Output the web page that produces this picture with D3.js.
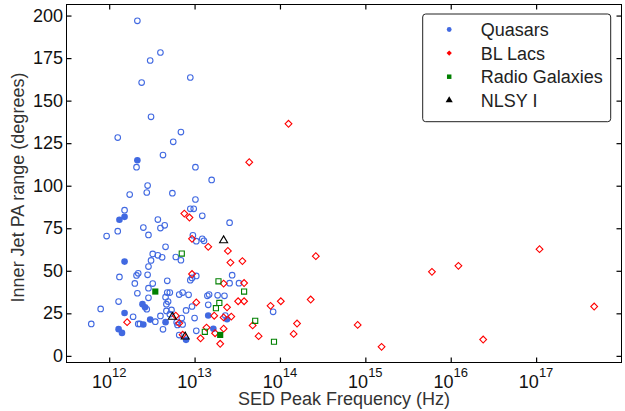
<!DOCTYPE html>
<html>
<head>
<meta charset="utf-8">
<script src="https://cdn.jsdelivr.net/npm/d3@7"></script>
<style>
  body { margin: 0; background: #fff; }
  text { font-family: "Liberation Sans", Arial, sans-serif; }
</style>
</head>
<body>
<div id="chart"></div>
<script>
// values: [log10 SED peak frequency (Hz), inner jet PA range (deg)]
var quasarsOpen = [
  [12.33, 196.9], [12.60, 178.3], [12.48, 173.6], [12.95, 163.6], [12.38, 160.6],
  [12.49, 140.5], [12.10, 128.3], [12.84, 131.5], [12.75, 125.8], [12.32, 110.9],
  [12.63, 118.0], [13.01, 110.9], [13.20, 103.4], [12.45, 100.1], [12.44, 96.0],
  [12.24, 94.8], [12.74, 95.6], [13.01, 91.9], [12.18, 85.6], [12.95, 86.4],
  [12.99, 86.4], [13.09, 82.3], [12.57, 80.1], [11.97, 70.4], [12.10, 73.3],
  [12.40, 75.4], [12.46, 71.1], [12.60, 75.1], [12.65, 76.7], [13.41, 78.3],
  [12.98, 70.9], [13.02, 67.4], [13.09, 68.8], [13.11, 67.6], [12.66, 64.1],
  [12.51, 59.9], [12.57, 59.1], [12.62, 57.9], [12.49, 56.1], [12.46, 52.5],
  [12.78, 58.1], [12.84, 56.2], [12.12, 46.4], [12.32, 47.3], [12.34, 48.5],
  [12.45, 47.6], [12.30, 42.6], [12.46, 39.8], [12.51, 42.5], [12.68, 44.1],
  [12.95, 44.5], [12.97, 45.8], [13.02, 47.0], [13.44, 47.4], [13.41, 42.7],
  [13.52, 42.7], [12.33, 36.8], [12.68, 37.2], [12.71, 37.2], [12.82, 36.0],
  [12.86, 37.2], [12.93, 35.9], [12.66, 34.5], [12.46, 34.1], [12.11, 31.9],
  [11.90, 27.6], [12.44, 27.4], [12.67, 30.4], [12.69, 31.9], [12.67, 26.4],
  [12.73, 27.0], [12.60, 23.5], [12.71, 24.5], [13.15, 35.3], [13.17, 36.0],
  [13.27, 35.6], [13.35, 35.3], [13.16, 30.0], [12.90, 26.7], [12.97, 29.0],
  [13.36, 23.7], [12.28, 23.0], [12.54, 20.1], [12.79, 19.7], [12.80, 18.2],
  [12.86, 18.5], [12.85, 22.2], [12.34, 18.8], [12.36, 18.8], [11.79, 18.8],
  [12.63, 15.6], [12.82, 12.2], [13.02, 14.7], [13.00, 22.2], [13.92, 25.9]
];
var quasarsFilled = [
  [12.33, 115.0], [12.12, 80.0], [12.18, 81.7], [12.18, 55.4], [12.39, 30.4],
  [12.42, 28.5], [12.18, 25.2], [12.48, 21.3], [12.66, 19.8], [12.40, 18.4],
  [12.11, 15.7], [12.15, 13.5], [12.90, 9.4], [13.16, 23.7], [13.22, 15.9],
  [13.38, 21.5]
];
var blLacs = [
  [14.10, 136.4], [13.64, 113.8], [12.88, 83.6], [12.94, 81.3], [12.97, 68.8],
  [13.16, 64.1], [13.39, 61.7], [13.42, 54.8], [13.56, 55.7], [12.97, 48.1],
  [13.34, 42.5], [13.58, 42.8], [13.02, 31.4], [13.51, 32.1], [13.58, 32.1],
  [13.38, 28.5], [13.23, 23.6], [13.34, 22.6], [13.43, 23.1], [12.78, 23.6],
  [12.82, 19.2], [12.21, 19.8], [12.86, 12.4], [13.07, 10.3], [13.14, 16.6],
  [13.24, 13.3], [13.34, 16.0], [13.30, 7.1], [13.68, 17.9], [13.75, 11.6],
  [13.89, 29.4], [14.01, 32.1], [14.20, 19.0], [14.16, 12.9], [14.36, 33.1],
  [14.42, 58.6], [14.91, 18.2], [15.19, 5.3], [15.78, 49.4], [16.09, 52.9],
  [16.38, 9.6], [17.04, 62.7], [17.68, 29.0]
];
var radioGalaxiesOpen = [
  [12.85, 60.1], [13.28, 43.8], [13.58, 37.8], [13.29, 31.1], [13.25, 28.0],
  [13.12, 14.1], [13.71, 20.6], [13.93, 8.3]
];
var radioGalaxiesFilled = [[12.54, 37.8], [13.30, 12.3]];
var nlsy1 = [[13.34, 67.8], [12.74, 22.9], [12.89, 11.3]];

var xTicks = [12, 13, 14, 15, 16, 17];
var yTicks = [0, 25, 50, 75, 100, 125, 150, 175, 200];
var legendLabels = ['Quasars', 'BL Lacs', 'Radio Galaxies', 'NLSY I'];

var blue = '#4169e1', red = '#ff0000', green = '#008000', black = '#000000';

// set the dimensions and margins of the graph
var margin = { top: 4.5, right: 3.5, bottom: 48.5, left: 66.5 },
  width = 625 - margin.left - margin.right,
  height = 411 - margin.top - margin.bottom;

var svg = d3
  .select('#chart')
  .append('svg')
  .attr('width', 625)
  .attr('height', 411)
  .append('g')
  .attr('transform', 'translate(' + margin.left + ',' + margin.top + ')');

var x = d3.scaleLog().domain([Math.pow(10, 11.5), 1e18]).range([0, width]);
var y = d3.scaleLinear().domain([-3.9, 206.5]).range([height, 0]);

function px(d) { return x(Math.pow(10, d[0])); }
function py(d) { return y(d[1]); }

// inward ticks on all four sides
var tickVals = xTicks.map(function (e) { return Math.pow(10, e); });
svg.append('g')
  .attr('transform', 'translate(0,' + height + ')')
  .call(d3.axisBottom(x).tickValues(tickVals).tickSize(-5).tickFormat('').tickSizeOuter(0));
svg.append('g')
  .call(d3.axisTop(x).tickValues(tickVals).tickSize(-5).tickFormat('').tickSizeOuter(0));
svg.append('g')
  .call(d3.axisLeft(y).tickValues(yTicks).tickSize(-5).tickFormat('').tickSizeOuter(0));
svg.append('g')
  .attr('transform', 'translate(' + width + ',0)')
  .call(d3.axisRight(y).tickValues(yTicks).tickSize(-5).tickFormat('').tickSizeOuter(0));
svg.selectAll('.domain').remove();
svg.selectAll('.tick line').attr('stroke', '#000').attr('stroke-width', 1.2);

svg.append('rect')
  .attr('width', width)
  .attr('height', height)
  .attr('fill', 'none')
  .attr('stroke', '#000')
  .attr('stroke-width', 1);

// tick labels, 10 with a raised exponent
var xl = svg.append('g').selectAll('text')
  .data(xTicks)
  .enter()
  .append('text')
  .attr('x', function (d) { return x(Math.pow(10, d)); })
  .attr('y', height + 25)
  .attr('text-anchor', 'middle')
  .attr('fill', '#111')
  .style('font-size', '18px');
xl.append('tspan').text('10');
xl.append('tspan').attr('dy', -11).style('font-size', '13px').text(function (d) { return d; });

svg.append('g').selectAll('text')
  .data(yTicks)
  .enter()
  .append('text')
  .attr('x', -3.5)
  .attr('y', function (d) { return y(d) + 6; })
  .attr('text-anchor', 'end')
  .attr('fill', '#111')
  .style('font-size', '18px')
  .text(function (d) { return d; });

// axis titles
svg.append('text')
  .attr('x', width / 2)
  .attr('y', height + 42.5)
  .attr('text-anchor', 'middle')
  .attr('fill', '#333')
  .style('font-size', '18px')
  .text('SED Peak Frequency (Hz)');

svg.append('text')
  .attr('transform', 'translate(' + (-43) + ',' + (height / 2 + 4) + ') rotate(-90)')
  .attr('text-anchor', 'middle')
  .attr('fill', '#333')
  .style('font-size', '18px')
  .text('Inner Jet PA range (degrees)');

// markers
var diamond = d3.symbol().type(d3.symbolSquare).size(23);
var square = d3.symbol().type(d3.symbolSquare).size(26);
var triangle = d3.symbol().type(d3.symbolTriangle).size(28);

var plot = svg.append('g');

plot.selectAll('.qo').data(quasarsOpen).enter().append('circle')
  .attr('cx', px).attr('cy', py).attr('r', 2.8)
  .attr('fill', 'none').attr('stroke', blue).attr('stroke-width', 1.1);

plot.selectAll('.qf').data(quasarsFilled).enter().append('circle')
  .attr('cx', px).attr('cy', py).attr('r', 3.3)
  .attr('fill', blue);

plot.selectAll('.bl').data(blLacs).enter().append('path')
  .attr('d', diamond)
  .attr('transform', function (d) { return 'translate(' + px(d) + ',' + py(d) + ') rotate(45)'; })
  .attr('fill', 'none').attr('stroke', red).attr('stroke-width', 1.1);

plot.selectAll('.rgo').data(radioGalaxiesOpen).enter().append('path')
  .attr('d', square)
  .attr('transform', function (d) { return 'translate(' + px(d) + ',' + py(d) + ')'; })
  .attr('fill', 'none').attr('stroke', green).attr('stroke-width', 1.1);

plot.selectAll('.rgf').data(radioGalaxiesFilled).enter().append('path')
  .attr('d', d3.symbol().type(d3.symbolSquare).size(38))
  .attr('transform', function (d) { return 'translate(' + px(d) + ',' + py(d) + ')'; })
  .attr('fill', green);

plot.selectAll('.nl').data(nlsy1).enter().append('path')
  .attr('d', triangle)
  .attr('transform', function (d) { return 'translate(' + px(d) + ',' + py(d) + ')'; })
  .attr('fill', 'none').attr('stroke', black).attr('stroke-width', 1.1);

// legend
var legend = svg.append('g').attr('transform', 'translate(' + (422.7 - margin.left) + ',' + (14 - margin.top) + ')');
legend.append('rect')
  .attr('width', 188)
  .attr('height', 107.7)
  .attr('rx', 3)
  .attr('fill', '#fff')
  .attr('stroke', '#222')
  .attr('stroke-width', 1);

var legendSymbols = [
  d3.symbol().type(d3.symbolCircle).size(18),
  d3.symbol().type(d3.symbolSquare).size(14),
  d3.symbol().type(d3.symbolSquare).size(20),
  d3.symbol().type(d3.symbolTriangle).size(22)
];
var legendColors = [blue, red, green, black];

var rows = legend.selectAll('.row')
  .data(legendLabels)
  .enter()
  .append('g')
  .attr('transform', function (d, i) { return 'translate(0,' + (15.5 + i * 23.6) + ')'; });

rows.append('path')
  .attr('d', function (d, i) { return legendSymbols[i](); })
  .attr('transform', function (d, i) { return 'translate(26.5,0)' + (i === 1 ? ' rotate(45)' : ''); })
  .attr('fill', function (d, i) { return legendColors[i]; });

rows.append('text')
  .attr('x', 58)
  .attr('y', 6.5)
  .attr('fill', '#222')
  .style('font-size', '18px')
  .text(function (d) { return d; });
</script>
</body>
</html>
